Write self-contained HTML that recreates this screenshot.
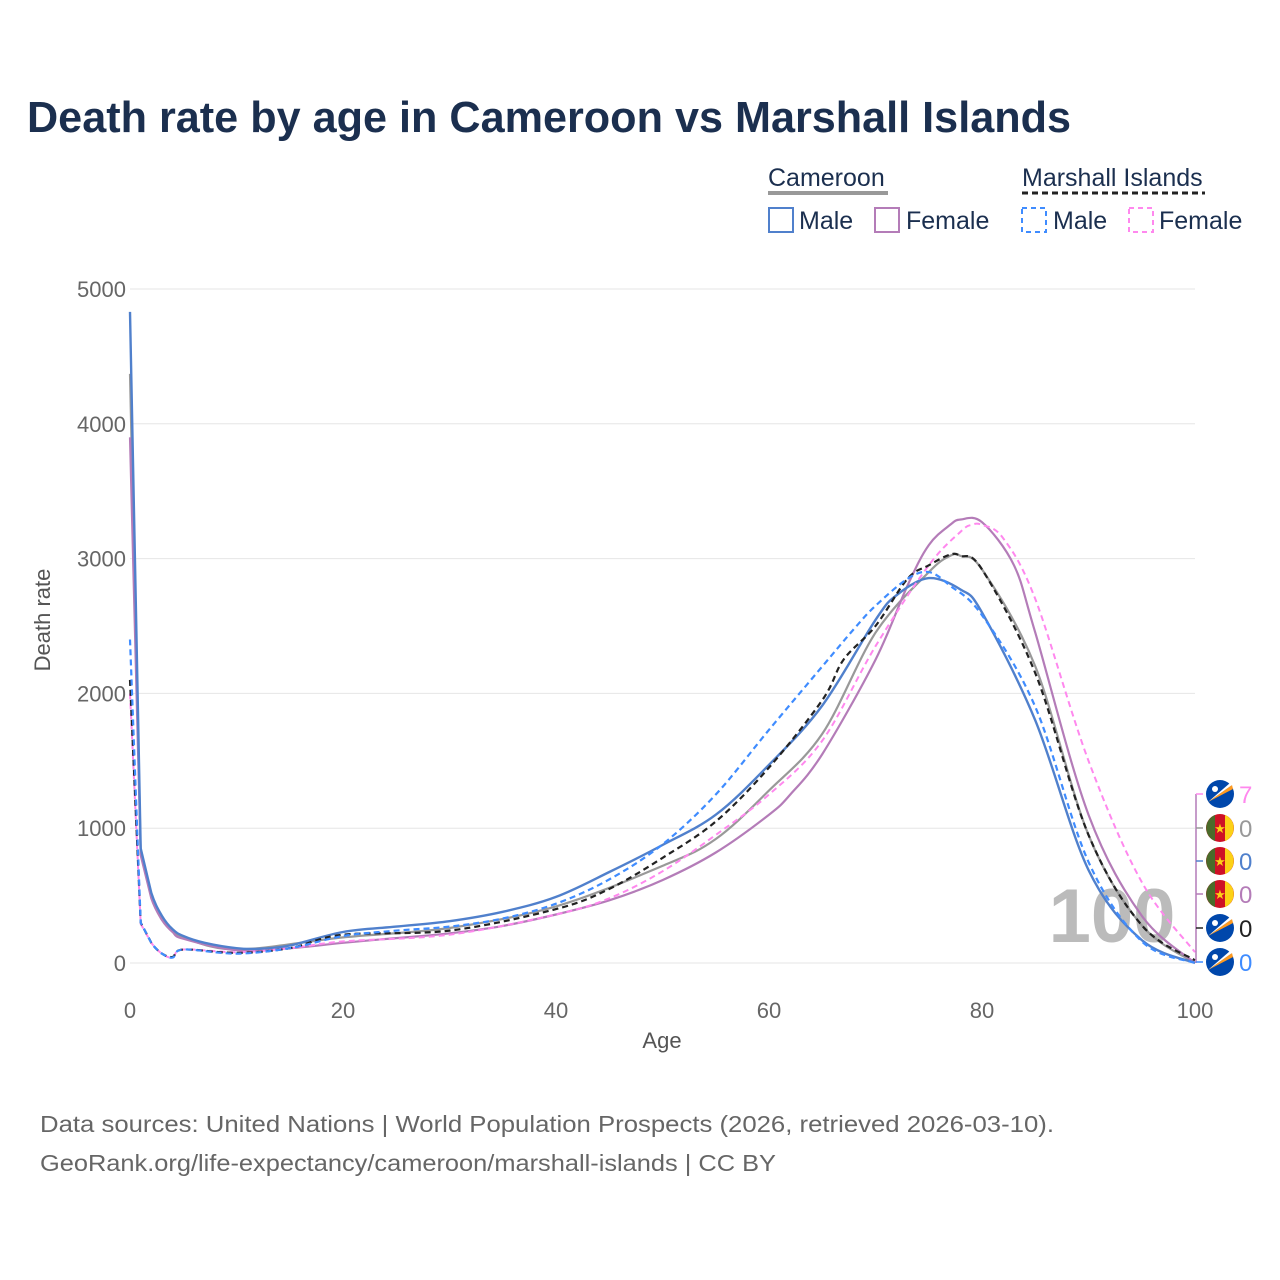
<!DOCTYPE html>
<html><head><meta charset="utf-8"><style>
body{margin:0;background:#fff;font-family:"Liberation Sans",sans-serif;}
#wrap{position:relative;width:1280px;height:1280px;overflow:hidden;}
</style></head><body>
<div id="wrap">
<svg id="svg" width="1280" height="1280" xmlns="http://www.w3.org/2000/svg">
<text x="27" y="132" font-size="44" font-weight="bold" fill="#1b2f4f" textLength="1044" lengthAdjust="spacingAndGlyphs">Death rate by age in Cameroon vs Marshall Islands</text>
<g font-size="25" fill="#1b2f4f">
<text x="768" y="186">Cameroon</text>
<line x1="768" y1="193" x2="888" y2="193" stroke="#999" stroke-width="4"/>
<text x="1022" y="186">Marshall Islands</text>
<line x1="1022" y1="193" x2="1205" y2="193" stroke="#222" stroke-width="3" stroke-dasharray="6,4"/>
<g><rect x="769" y="208" width="24" height="24" fill="none" stroke="#5080cc" stroke-width="2"/><text x="799" y="229">Male</text></g>
<g><rect x="875" y="208" width="24" height="24" fill="none" stroke="#b47cb8" stroke-width="2"/><text x="906" y="229">Female</text></g>
<g><rect x="1022" y="208" width="24" height="24" fill="none" stroke="#3f8cff" stroke-width="2" stroke-dasharray="5,4"/><text x="1053" y="229">Male</text></g>
<g><rect x="1129" y="208" width="24" height="24" fill="none" stroke="#ff88ee" stroke-width="2" stroke-dasharray="5,4"/><text x="1159" y="229">Female</text></g>
</g>
<g id="grid"></g>
<text x="1112" y="942" font-size="76" font-weight="bold" fill="#bbb" text-anchor="middle">100</text>
<g id="lines"></g>
<g id="endlabels"></g>
<text x="50" y="620" font-size="22" fill="#555" text-anchor="middle" transform="rotate(-90 50 620)">Death rate</text>
<text x="662" y="1048" font-size="22" fill="#555" text-anchor="middle">Age</text>
<text x="40" y="1132" font-size="23" fill="#666" textLength="1014" lengthAdjust="spacingAndGlyphs">Data sources: United Nations | World Population Prospects (2026, retrieved 2026-03-10).</text>
<text x="40" y="1171" font-size="23" fill="#666" textLength="736" lengthAdjust="spacingAndGlyphs">GeoRank.org/life-expectancy/cameroon/marshall-islands | CC BY</text>
</svg>
</div>
<script>
const yTicks=[0,1000,2000,3000,4000,5000];
const xTicks=[0,20,40,60,80,100];
const camMaleAge=[0,1,2,3,4,5,7,10,12,15,20,25,30,35,40,45,50,55,60,65,70,72,75,78,80,85,90,95,100];
const camMaleVal=[4830,850,520,350,250,200,150,110,105,130,230,270,310,380,490,675,875,1100,1470,1910,2545,2730,2855,2770,2600,1800,690,170,0];
const camFemAge=[0,1,2,3,4,5,10,15,20,25,30,35,40,45,50,55,60,62,65,70,73,75,77,78,80,83,85,90,95,100];
const camFemVal=[3900,800,480,320,230,180,95,110,150,185,220,275,360,465,615,820,1100,1250,1550,2250,2800,3100,3250,3290,3270,2950,2450,1100,350,0];
const camAllAge=[0,1,2,3,4,5,10,20,30,40,50,55,60,65,70,75,77,78,80,85,90,95,100];
const camAllVal=[4370,820,500,340,240,190,100,190,260,420,720,920,1280,1700,2450,2900,3020,3020,2920,2200,950,280,0];
const miMaleAge=[0,1,2,3,4,5,10,15,20,25,30,35,40,45,50,55,60,65,68,70,73,75,77,80,85,90,95,100];
const miMaleVal=[2400,300,150,70,40,100,70,110,200,240,270,330,440,620,880,1250,1730,2200,2480,2650,2850,2900,2800,2580,1900,750,160,0];
const miFemAge=[0,1,2,3,4,5,10,15,20,30,40,45,50,55,60,65,70,75,78,79,80,82,85,90,95,100];
const miFemVal=[2000,290,150,70,40,100,80,110,160,210,360,480,680,950,1250,1650,2350,2950,3200,3250,3250,3150,2700,1500,600,80];
const miAllAge=[0,1,2,3,4,5,10,15,20,30,40,45,50,55,60,65,67,70,73,75,77,78,80,85,90,95,100];
const miAllVal=[2100,300,150,70,45,100,75,110,210,240,400,550,780,1050,1450,1950,2250,2500,2850,2950,3030,3020,2920,2150,950,280,20];
const endLabels=["7","0","0","0","0","0"];

const NS="http://www.w3.org/2000/svg";
const X=a=>130+a*(1195-130)/100;
const Y=v=>963-v*(963-289)/5000;
function mk(t,at,p){const e=document.createElementNS(NS,t);for(const k in at)e.setAttribute(k,at[k]);p.appendChild(e);return e;}
const grid=document.getElementById('grid');
yTicks.forEach(v=>{
 const l=mk('line',{x1:130,x2:1195,y1:Y(v),y2:Y(v),stroke:'#e6e6e6','stroke-width':1},grid);
 
 
 const t=mk('text',{x:126,y:Y(v)+8,'font-size':22,fill:'#666','text-anchor':'end'},grid);t.textContent=v;
 
 
});
xTicks.forEach(a=>{
 const t=mk('text',{x:X(a),y:1018,'font-size':22,fill:'#666','text-anchor':'middle'},grid);t.textContent=a;
 
 
});
const lines=document.getElementById('lines');
function series(ag,vals,col,dash,w,name){
 const P=ag.map((a,i)=>[X(a),Y(vals[i])]);
 let d='M'+P[0][0].toFixed(1)+','+P[0][1].toFixed(1);
 for(let i=0;i<P.length-1;i++){
  const p0=P[Math.max(0,i-1)],p1=P[i],p2=P[i+1],p3=P[Math.min(P.length-1,i+2)];
  const t=i<2?0:1/6;
  const c1=[p1[0]+(p2[0]-p0[0])*t,p1[1]+(p2[1]-p0[1])*t];
  const c2=[p2[0]-(p3[0]-p1[0])*t,p2[1]-(p3[1]-p1[1])*t];
  d+=` C${c1[0].toFixed(1)},${c1[1].toFixed(1)} ${c2[0].toFixed(1)},${c2[1].toFixed(1)} ${p2[0].toFixed(1)},${p2[1].toFixed(1)}`;
 }
 const p=mk('path',{d:d,fill:'none',stroke:col,'stroke-width':w,'stroke-dasharray':dash||'none','stroke-linejoin':'round'},lines);
 
 
}
series(camAllAge,camAllVal,'#999','',2.2,'line-cameroon-total');
series(camFemAge,camFemVal,'#b47cb8','',2.2,'line-cameroon-female');
series(camMaleAge,camMaleVal,'#5080cc','',2.4,'line-cameroon-male');
series(miFemAge,miFemVal,'#ff88ee','6,4',2,'line-marshall-female');
series(miAllAge,miAllVal,'#222','6,4',2.2,'line-marshall-total');
series(miMaleAge,miMaleVal,'#3f8cff','6,4',2.2,'line-marshall-male');
const el=document.getElementById('endlabels');
const flags=['mh','cm','cm','cm','mh','mh'];
const cols=['#ff88ee','#999','#5080cc','#b47cb8','#222','#3f8cff'];
const ly=[794,828,861,894,928,962];
const vl=mk('line',{x1:1196,x2:1196,y1:794,y2:963,stroke:'#b47cb8','stroke-width':1.5},el);


endLabels.forEach((s,i)=>{
 const g=mk('g',{},el);
 
 
 mk('line',{x1:1196,x2:1203,y1:ly[i],y2:ly[i],stroke:cols[i],'stroke-width':1.5},g);
 const cx=1220,cy=ly[i];
 if(flags[i]=='cm'){
  mk('circle',{cx:cx,cy:cy,r:14,fill:'#ce1126'},g);
  mk('path',{d:`M${cx-5},${cy-13} A14,14 0 0 0 ${cx-5},${cy+13}Z`,fill:'#4a6b2a'},g);
  mk('path',{d:`M${cx+5},${cy-13} A14,14 0 0 1 ${cx+5},${cy+13}Z`,fill:'#fcd116'},g);
  const st=mk('text',{x:cx,y:cy+5,'font-size':13,fill:'#fcd116','text-anchor':'middle'},g);st.textContent='★';
 } else {
  mk('circle',{cx:cx,cy:cy,r:14,fill:'#0047ab'},g);
  mk('polygon',{points:`${cx-12},${cy+8} ${cx+12},${cy-9} ${cx+13},${cy-5}`,fill:'#ff9a1f'},g);
  mk('polygon',{points:`${cx-12},${cy+8} ${cx+12},${cy-9} ${cx+10},${cy-11}`,fill:'#fff'},g);
  mk('circle',{cx:cx-5,cy:cy-5,r:3,fill:'#fff'},g);
 }
 const t=mk('text',{x:1239,y:cy+9,'font-size':24,fill:cols[i]},g);t.textContent=s;
});
</script>
</body></html>
